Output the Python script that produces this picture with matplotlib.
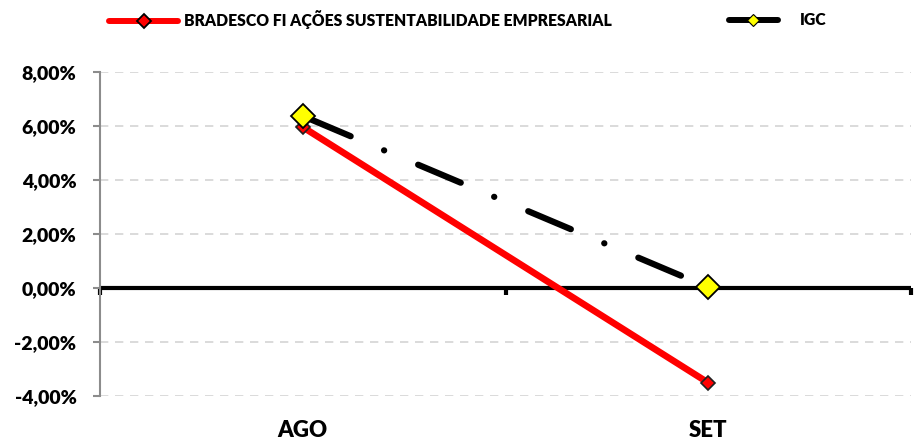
import matplotlib.pyplot as plt
from matplotlib.lines import Line2D
from matplotlib.ticker import FuncFormatter

plt.rcParams['font.family'] = ['Lato', 'DejaVu Sans']
plt.rcParams['font.weight'] = 'heavy'

categories = ['AGO', 'SET']
bradesco = [5.96, -3.51]
igc = [6.37, 0.03]
series_names = ['BRADESCO FI AÇÕES SUSTENTABILIDADE EMPRESARIAL', 'IGC']
yticks = [-4, -2, 0, 2, 4, 6, 8]

fig = plt.figure(figsize=(9.14, 4.41), dpi=100)
ax = fig.add_axes([100 / 914, 1 - 396 / 441, 811 / 914, 324 / 441])

x = list(range(len(categories)))
igc_style = (18.2, (7.4, 5.8, 0.02, 5.9))

ax.plot(x, bradesco, color='#ff0000', lw=4.8, solid_capstyle='round',
        marker='D', ms=7, mfc='#ff0000', mec='#202020', mew=1.2, zorder=3)
ax.plot(x, igc, color='black', lw=4.5, linestyle=igc_style, dash_capstyle='round',
        marker='D', ms=12, mfc='#ffff00', mec='black', mew=1.3, zorder=4)
ax.axhline(0, color='black', lw=3, zorder=2)

ax.set_xlim(-0.5, len(categories) - 0.5)
ax.set_ylim(-4, 8)
ax.set_yticks(yticks)
ax.yaxis.set_major_formatter(FuncFormatter(lambda v, p: f'{v:.2f}%'.replace('.', ',')))
ax.grid(axis='y', color='#d4d4d4', linestyle=(0, (5, 4)), lw=1.2)
ax.set_axisbelow(True)

for s in ['top', 'right', 'bottom']:
    ax.spines[s].set_visible(False)
ax.spines['left'].set_color('#8c8c8c')
ax.spines['left'].set_linewidth(1.5)
ax.tick_params(axis='y', direction='out', length=5, width=1.5, color='#8c8c8c',
               pad=12, labelsize=14)

ax.set_xticks(x)
ax.set_xticklabels(categories, fontsize=16)
ax.tick_params(axis='x', length=0, pad=17)

# tick marks on the category axis crossing at zero
zero_frac = (0 - (-4)) / 12
sec = ax.secondary_xaxis(zero_frac)
sec.spines['bottom'].set_visible(False)
sec.set_xticks([-0.5, 0.5, 1.5])
sec.set_xticklabels([])
sec.tick_params(axis='x', direction='out', length=5, width=3, color='black')

h1 = Line2D([], [], color='#ff0000', lw=4.3, solid_capstyle='round',
            marker='D', ms=7, mfc='#ff0000', mec='black', mew=1.3)
h2 = Line2D([], [], color='black', lw=4.3, solid_capstyle='round',
            marker='D', ms=6, mfc='#ffff00', mec='black', mew=0.8)
fig.legend(handles=[h1], labels=[series_names[0]], loc='center left',
           bbox_to_anchor=(95 / 914, 1 - 20 / 441), frameon=False,
           fontsize=11.3, handlelength=4.4, handletextpad=0.35)
fig.legend(handles=[h2], labels=[series_names[1]], loc='center left',
           bbox_to_anchor=(715 / 914, 1 - 20 / 441), frameon=False,
           fontsize=11.3, handlelength=3.1, handletextpad=1.4)

fig.savefig('out.png', dpi=100)
